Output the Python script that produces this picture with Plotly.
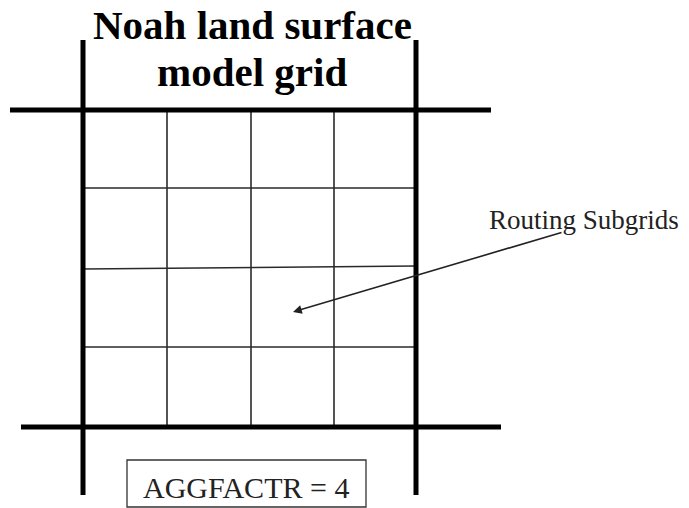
import plotly.graph_objects as go

# Diagram geometry (pixel-like coordinate space 0..689 x 0..508, y downward)
outer_x = [83, 416]                 # thick model-grid verticals
outer_x_span = (40, 495)
top_y, top_span = 110, (10, 491)    # thick top horizontal
bot_y, bot_span = 427, (21, 501)    # thick bottom horizontal
sub_x = [167, 251, 334]             # routing subgrid verticals
sub_y_left = [188, 269, 347]        # routing subgrid horizontals (left end)
sub_y_right = [188, 266, 347]       # routing subgrid horizontals (right end)

title_lines = ["Noah land surface", "model grid"]
label_text = "Routing Subgrids"
box_text = "AGGFACTR = 4"
arrow_tail = (563, 232)
arrow_head = (293, 312)

fig = go.Figure()

thin = dict(color="#2a2a2a", width=1.6)
thick = dict(color="black", width=5)

for x in sub_x:
    fig.add_trace(go.Scatter(x=[x, x], y=[top_y, bot_y], mode="lines", line=thin,
                             hoverinfo="skip", showlegend=False))
for yl, yr in zip(sub_y_left, sub_y_right):
    fig.add_trace(go.Scatter(x=[outer_x[0], outer_x[1]], y=[yl, yr], mode="lines", line=thin,
                             hoverinfo="skip", showlegend=False))
for x in outer_x:
    fig.add_trace(go.Scatter(x=[x, x], y=list(outer_x_span), mode="lines", line=thick,
                             hoverinfo="skip", showlegend=False))
fig.add_trace(go.Scatter(x=list(top_span), y=[top_y, top_y], mode="lines", line=thick,
                         hoverinfo="skip", showlegend=False))
fig.add_trace(go.Scatter(x=list(bot_span), y=[bot_y, bot_y], mode="lines", line=thick,
                         hoverinfo="skip", showlegend=False))

# Title
fig.add_annotation(x=252, y=25, text="<b>%s</b>" % title_lines[0], showarrow=False,
                   font=dict(family="Liberation Serif", size=41, color="black"),
                   xanchor="center", yanchor="middle")
fig.add_annotation(x=252, y=72, text="<b>%s</b>" % title_lines[1], showarrow=False,
                   font=dict(family="Liberation Serif", size=41, color="black"),
                   xanchor="center", yanchor="middle")

# Label
fig.add_annotation(x=584, y=220, text=label_text, showarrow=False,
                   font=dict(family="Liberation Serif", size=27, color="#222"),
                   xanchor="center", yanchor="middle")

# Arrow
fig.add_annotation(x=arrow_head[0], y=arrow_head[1], ax=arrow_tail[0], ay=arrow_tail[1],
                   xref="x", yref="y", axref="x", ayref="y", text="", showarrow=True,
                   arrowhead=2, arrowsize=1.1, arrowwidth=1.6, arrowcolor="#222")

# Box
fig.add_shape(type="rect", x0=127, x1=366, y0=460, y1=507,
              line=dict(color="#333", width=1.3), fillcolor="white")
fig.add_annotation(x=246, y=487, text=box_text, showarrow=False,
                   font=dict(family="Liberation Serif", size=30, color="#222"),
                   xanchor="center", yanchor="middle")

# The page body has an 8px margin; map data coords directly to window pixels.
fig.update_xaxes(range=[8, 689], visible=False, fixedrange=True)
fig.update_yaxes(range=[508, 8], visible=False, fixedrange=True)
fig.update_layout(width=681, height=500, margin=dict(l=0, r=0, t=0, b=0),
                  plot_bgcolor="white", paper_bgcolor="white", showlegend=False)

fig.write_html("out.html")
